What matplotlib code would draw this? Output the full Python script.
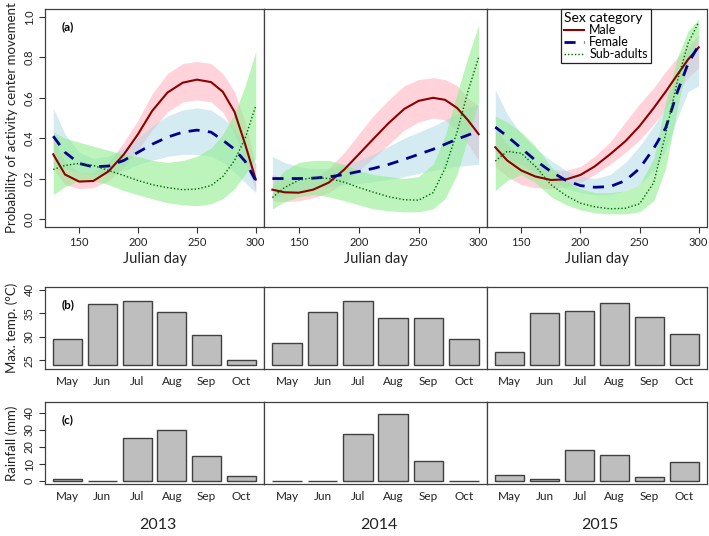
import numpy as np
import matplotlib
matplotlib.use("Agg")
import matplotlib.pyplot as plt

plt.rcParams['font.family'] = ['Lato', 'DejaVu Sans']

days = [128, 138, 150, 162, 175, 188, 200, 212, 225, 238, 250, 262, 272, 282, 291, 300]
years = ['2013', '2014', '2015']
months = ['May', 'Jun', 'Jul', 'Aug', 'Sep', 'Oct']

# ---- probability of activity center movement (mean, lower, upper) ----
male_2013 = [0.32, 0.22, 0.185, 0.188, 0.236, 0.32, 0.42, 0.535, 0.626, 0.675, 0.69, 0.678, 0.63, 0.53, 0.37, 0.195]
male_lo_2013 = [0.25, 0.17, 0.15, 0.155, 0.19, 0.26, 0.34, 0.44, 0.53, 0.58, 0.59, 0.58, 0.53, 0.42, 0.28, 0.14]
male_hi_2013 = [0.40, 0.28, 0.23, 0.23, 0.28, 0.38, 0.49, 0.62, 0.72, 0.77, 0.78, 0.77, 0.72, 0.63, 0.48, 0.27]
female_2013 = [0.41, 0.33, 0.275, 0.258, 0.262, 0.29, 0.33, 0.37, 0.405, 0.43, 0.44, 0.43, 0.39, 0.345, 0.285, 0.19]
female_lo_2013 = [0.27, 0.25, 0.23, 0.22, 0.22, 0.24, 0.27, 0.29, 0.31, 0.32, 0.32, 0.31, 0.28, 0.23, 0.18, 0.13]
female_hi_2013 = [0.55, 0.42, 0.33, 0.30, 0.31, 0.35, 0.40, 0.46, 0.51, 0.54, 0.55, 0.54, 0.50, 0.45, 0.37, 0.27]
sub_2013 = [0.245, 0.265, 0.275, 0.265, 0.24, 0.215, 0.19, 0.17, 0.155, 0.145, 0.148, 0.165, 0.21, 0.29, 0.40, 0.56]
sub_lo_2013 = [0.12, 0.16, 0.19, 0.19, 0.17, 0.14, 0.12, 0.10, 0.08, 0.07, 0.065, 0.075, 0.10, 0.15, 0.22, 0.30]
sub_hi_2013 = [0.43, 0.40, 0.38, 0.36, 0.34, 0.32, 0.31, 0.29, 0.28, 0.29, 0.31, 0.35, 0.42, 0.52, 0.66, 0.83]

male_2014 = [0.145, 0.132, 0.13, 0.145, 0.18, 0.245, 0.32, 0.395, 0.475, 0.545, 0.585, 0.60, 0.59, 0.55, 0.49, 0.42]
male_lo_2014 = [0.09, 0.085, 0.09, 0.105, 0.13, 0.18, 0.24, 0.30, 0.37, 0.44, 0.48, 0.50, 0.49, 0.44, 0.37, 0.29]
male_hi_2014 = [0.22, 0.20, 0.19, 0.20, 0.25, 0.33, 0.42, 0.51, 0.59, 0.66, 0.69, 0.70, 0.69, 0.66, 0.60, 0.56]
female_2014 = [0.20, 0.20, 0.20, 0.202, 0.208, 0.22, 0.235, 0.25, 0.27, 0.295, 0.32, 0.345, 0.37, 0.395, 0.415, 0.436]
female_lo_2014 = [0.10, 0.12, 0.14, 0.15, 0.16, 0.17, 0.175, 0.185, 0.195, 0.21, 0.225, 0.24, 0.25, 0.26, 0.265, 0.27]
female_hi_2014 = [0.31, 0.28, 0.26, 0.25, 0.25, 0.27, 0.29, 0.32, 0.36, 0.40, 0.43, 0.46, 0.49, 0.52, 0.55, 0.57]
sub_2014 = [0.106, 0.155, 0.192, 0.205, 0.20, 0.182, 0.156, 0.133, 0.11, 0.095, 0.093, 0.13, 0.25, 0.43, 0.63, 0.80]
sub_lo_2014 = [0.05, 0.085, 0.11, 0.12, 0.11, 0.09, 0.07, 0.05, 0.04, 0.035, 0.035, 0.05, 0.10, 0.22, 0.40, 0.58]
sub_hi_2014 = [0.17, 0.24, 0.28, 0.29, 0.29, 0.27, 0.24, 0.22, 0.21, 0.20, 0.21, 0.27, 0.41, 0.62, 0.80, 0.96]

male_2015 = [0.355, 0.29, 0.24, 0.21, 0.193, 0.196, 0.218, 0.26, 0.32, 0.385, 0.46, 0.55, 0.63, 0.715, 0.79, 0.85]
male_lo_2015 = [0.26, 0.21, 0.17, 0.155, 0.15, 0.16, 0.18, 0.22, 0.27, 0.33, 0.39, 0.47, 0.55, 0.63, 0.70, 0.75]
male_hi_2015 = [0.46, 0.37, 0.31, 0.27, 0.245, 0.24, 0.26, 0.31, 0.38, 0.48, 0.57, 0.65, 0.73, 0.80, 0.86, 0.91]
female_2015 = [0.455, 0.41, 0.35, 0.29, 0.235, 0.19, 0.165, 0.157, 0.16, 0.19, 0.25, 0.35, 0.45, 0.63, 0.77, 0.86]
female_lo_2015 = [0.30, 0.30, 0.27, 0.23, 0.19, 0.15, 0.13, 0.12, 0.12, 0.14, 0.17, 0.24, 0.34, 0.50, 0.63, 0.66]
female_hi_2015 = [0.64, 0.52, 0.42, 0.35, 0.29, 0.24, 0.21, 0.20, 0.22, 0.28, 0.36, 0.46, 0.56, 0.73, 0.84, 0.89]
sub_2015 = [0.286, 0.335, 0.325, 0.26, 0.17, 0.115, 0.078, 0.06, 0.05, 0.053, 0.075, 0.18, 0.42, 0.684, 0.87, 0.975]
sub_lo_2015 = [0.14, 0.19, 0.22, 0.18, 0.11, 0.07, 0.045, 0.03, 0.025, 0.025, 0.035, 0.09, 0.25, 0.55, 0.78, 0.90]
sub_hi_2015 = [0.51, 0.48, 0.43, 0.36, 0.26, 0.19, 0.15, 0.13, 0.13, 0.14, 0.17, 0.30, 0.58, 0.80, 0.93, 0.99]

# ---- monthly weather ----
temp_2013 = [29.5, 37.0, 37.5, 35.3, 30.3, 25.1]
temp_2014 = [28.6, 35.2, 37.5, 34.0, 34.0, 29.5]
temp_2015 = [26.7, 35.1, 35.5, 37.25, 34.1, 30.6]
rain_2013 = [1.2, 0.3, 25.2, 30.0, 14.4, 2.8]
rain_2014 = [0.2, 0.2, 27.3, 39.2, 11.7, 0.1]
rain_2015 = [3.6, 1.2, 18.0, 15.5, 2.6, 10.9]

curves = {
    '2013': [(male_2013, male_lo_2013, male_hi_2013), (female_2013, female_lo_2013, female_hi_2013), (sub_2013, sub_lo_2013, sub_hi_2013)],
    '2014': [(male_2014, male_lo_2014, male_hi_2014), (female_2014, female_lo_2014, female_hi_2014), (sub_2014, sub_lo_2014, sub_hi_2014)],
    '2015': [(male_2015, male_lo_2015, male_hi_2015), (female_2015, female_lo_2015, female_hi_2015), (sub_2015, sub_lo_2015, sub_hi_2015)],
}
temps = [temp_2013, temp_2014, temp_2015]
rains = [rain_2013, rain_2014, rain_2015]

labels = ['Male', 'Female', 'Sub-adults']
line_cols = ['#8B0000', '#00008B', '#006400']
band_cols = ['#FFB6C1', '#ADD8E6', '#90EE90']
band_alpha = [0.6, 0.5, 0.6]
styles = [dict(ls='-', lw=1.5), dict(ls=(0, (4, 3)), lw=2.0), dict(ls=(0, (1, 1.5)), lw=1.0)]

W, H = 709, 536
fig = plt.figure(figsize=(W / 100, H / 100), dpi=100)

def fx(px):
    return px / W

def fy(py):
    return 1 - py / H

cols = [(45, 264), (264, 487), (487, 707)]
frame = '#404040'

def style_frame(ax):
    for s in ax.spines.values():
        s.set_color(frame)
        s.set_linewidth(0.9)
    ax.tick_params(colors='#333333', labelcolor='#222222', direction='out', length=4, width=0.8)

# top row
top_axes = []
for i, (x0, x1) in enumerate(cols):
    ax = fig.add_axes([fx(x0), fy(227), fx(x1) - fx(x0), fy(9) - fy(227)])
    top_axes.append(ax)
    for k, (m, lo, hi) in enumerate(curves[years[i]]):
        ax.fill_between(days, lo, hi, color=band_cols[k], alpha=band_alpha[k], lw=0)
    for k, (m, lo, hi) in enumerate(curves[years[i]]):
        ax.plot(days, m, color=line_cols[k], label=labels[k], **styles[k])
    ax.set_xlim(121, 307)
    ax.set_ylim(-0.04, 1.04)
    ax.set_xticks([150, 200, 250, 300])
    style_frame(ax)
    ax.tick_params(axis='x', labelsize=8, pad=3)
    ax.set_xlabel('Julian day', fontsize=10.5, labelpad=3, color='#222222')
    if i == 0:
        ax.set_yticks([0, 0.2, 0.4, 0.6, 0.8, 1.0])
        ax.set_yticklabels(['0.0', '0.2', '0.4', '0.6', '0.8', '1.0'], rotation=90, va='center', fontsize=8)
        ax.set_ylabel('Probability of activity center movement', fontsize=9.5, color='#222222')
        ax.yaxis.set_label_coords(-0.125, 0.5)
        ax.text(0.075, 0.92, '(a)', transform=ax.transAxes, fontsize=8.5, fontweight='bold', va='center')
    else:
        ax.set_yticks([])

leg = top_axes[2].legend(loc='upper right', bbox_to_anchor=(0.745, 1.0), borderaxespad=0,
                         title='Sex category', fontsize=9, title_fontsize=10, frameon=True,
                         fancybox=False, edgecolor='#222222', handlelength=1.6, handletextpad=0.4,
                         labelspacing=0.0, borderpad=0.25, framealpha=1)
leg.get_frame().set_linewidth(0.9)
leg._legend_box.align = 'left'

# weather rows
xs = [0.7 + 1.2 * j for j in range(len(months))]
rows = [(286.7, 369, temps, 24.15, (23.2, 40.6), [25, 30, 35, 40], 'Max. temp. (°C)', '(b)'),
        (401.7, 484.3, rains, 0, (-1.85, 46.4), [0, 10, 20, 30, 40], 'Rainfall (mm)', '(c)')]
for (t, b, data, base, ylim, yt, ylab, tag) in rows:
    for i, (x0, x1) in enumerate(cols):
        ax = fig.add_axes([fx(x0), fy(b), fx(x1) - fx(x0), fy(t) - fy(b)])
        vals = np.array(data[i])
        ax.bar(xs, vals - base, bottom=base, width=1.0, color='#BEBEBE', edgecolor='#404040', linewidth=1.0)
        ax.set_xlim(-0.08, 7.48)
        ax.set_ylim(*ylim)
        style_frame(ax)
        ax.set_xticks(xs)
        ax.set_xticklabels(months, fontsize=8.5)
        ax.tick_params(axis='x', length=0, pad=5)
        if i == 0:
            ax.set_yticks(yt)
            ax.set_yticklabels([str(v) for v in yt], rotation=90, va='center', fontsize=8)
            ax.set_ylabel(ylab, fontsize=9.5, color='#222222')
            ax.yaxis.set_label_coords(-0.125, 0.5)
            ax.text(0.075, 0.78, tag, transform=ax.transAxes, fontsize=8.5, fontweight='bold', va='center')
        else:
            ax.set_yticks([])

for i, (x0, x1) in enumerate(cols):
    fig.text(fx((x0 + x1) / 2 + 3), fy(525), years[i], ha='center', va='center', fontsize=11.5, color='#222222')

fig.savefig('out.png', dpi=100)
